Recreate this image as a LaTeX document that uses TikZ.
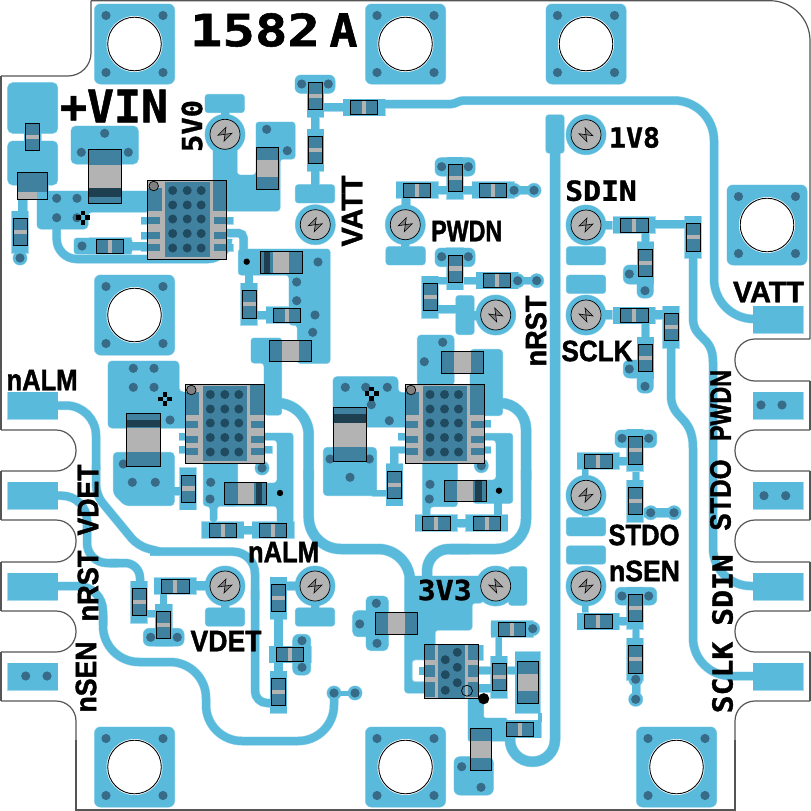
\documentclass[tikz,border=0pt]{standalone}
\usepackage{graphicx}
\usepackage{fontspec}
\setsansfont[BoldFeatures={FakeBold=1.6}]{Liberation Sans}
\setmonofont[BoldFeatures={FakeBold=1.2}]{DejaVu Sans Mono}
\definecolor{cublue}{HTML}{5ABADC}
\definecolor{cuhalo}{HTML}{A5DAEE}
\definecolor{chipteal}{HTML}{40819F}
\definecolor{chipgrey}{HTML}{B3B3B3}
\definecolor{viadark}{HTML}{386B87}
\definecolor{viaink}{HTML}{1F4A5F}
\definecolor{bandink}{HTML}{1D3F50}
\definecolor{edgeink}{HTML}{555555}

\def\mountlist{134.5/44,405.5/44,586/44,767/225,134.5/315,134.5/767,405.5/767,676.5/767}
\def\reshlist{110/246,364/107.3,417/190,493/190,634.3/225,634.3/315.3,598.3/461,598.3/621.3,222.7/530,273/530,287/315,436.3/523,486.9/523,497/280.3,175.3/586,290/654.3,512/629,520/729.3}
\def\resvlist{32.7/137,20/232,315.3/96,315.3/150,455/178,455/268.5,430/297,693/237.3,645.3/262.7,671/327,645.3/358,635/450.3,635/501,635/608,635/659.3,249/304.3,188/488.6,394.3/484.7,139/602,163.7/625,278.3/598,278.3/692,499/677}
\def\tplist{225/134.3/0,315.3/224.7/0,405.3/224.7/0,586/134.7/90,586/225/0,586/315/90,495.7/315/90,586/495.3/0,586/586/0,225/586/0,315/586/0,495.7/586/90}

% label text squeezed to the printed width
\newcommand{\labsans}[1]{\resizebox{71pt}{20.5pt}{\sffamily\bfseries #1}}
\newcommand{\labmono}[2]{\resizebox{#1pt}{20.5pt}{\ttfamily\bfseries #2}}

% one resistor or capacitor, centre then size then length of the end caps
\newcommand{\chiph}[5]{%
  \fill[chipgrey] ({#1-#3/2},{#2-#4/2}) rectangle ({#1+#3/2},{#2+#4/2});
  \fill[chipteal] ({#1-#3/2},{#2-#4/2}) rectangle ({#1-#3/2+#5},{#2+#4/2});
  \fill[chipteal] ({#1+#3/2-#5},{#2-#4/2}) rectangle ({#1+#3/2},{#2+#4/2});
  \draw[partline] ({#1-#3/2},{#2-#4/2}) rectangle ({#1+#3/2},{#2+#4/2});}
\newcommand{\chipv}[5]{%
  \fill[chipgrey] ({#1-#3/2},{#2-#4/2}) rectangle ({#1+#3/2},{#2+#4/2});
  \fill[chipteal] ({#1-#3/2},{#2-#4/2}) rectangle ({#1+#3/2},{#2-#4/2+#5});
  \fill[chipteal] ({#1-#3/2},{#2+#4/2-#5}) rectangle ({#1+#3/2},{#2+#4/2});
  \draw[partline] ({#1-#3/2},{#2-#4/2}) rectangle ({#1+#3/2},{#2+#4/2});}

% the big regulator, from its top left corner
\newcommand{\bigchip}[2]{%
  \begin{scope}[shift={(#1,#2)}]
    \fill[chipgrey] (0,0) rectangle (79,79);
    \fill[chipteal] (17.5,2) rectangle (62,76.5);
    \fill[chipteal] (0,8) rectangle (14,31);
    \fill[chipteal] (65,1) rectangle (79,31);
    \foreach \py in {36.5,51.5,64} {
      \fill[chipteal] (0,\py) rectangle (12.5,{\py+7});
      \fill[chipteal] (66,\py) rectangle (79,{\py+7});
    }
    \foreach \vx in {25,39.5,53.5}
      \foreach \vy in {10.5,25,39,53.5,68}
        \fill[viaink] (\vx,\vy) circle (4.5);
    \fill[gray] (6,6) circle (4.8);
    \draw[partline] (6,6) circle (4.8);
    \draw[partline] (0,0) rectangle (79,79);
  \end{scope}}

% everything in copper, drawn twice so the pale rim stays outside
\newcommand{\copperart}{%
  \foreach \x/\y in {7.5/392,7.5/482,7.5/573,7.5/663,753/306,753/392,753/482,753/573,753/663}
    \fill[copper] (\x,\y) rectangle +(50,27);
  \foreach \x/\y in \mountlist
    \fill[copper,rounded corners=6] ({\x-40},{\y-40}) rectangle ({\x+40},{\y+40});
  \foreach \x/\y in \reshlist
    \fill[copper] ({\x-21},{\y-8.3}) rectangle ({\x+21},{\y+8.3});
  \foreach \x/\y in \resvlist
    \fill[copper] ({\x-8.3},{\y-21}) rectangle ({\x+8.3},{\y+21});
  \foreach \x/\y/\r in \tplist
    \fill[copper] (\x,\y) circle (20);
  \foreach \x/\y/\w/\h in {224.7/103.5/39.3/18.3,315/193.8/39.3/18.3,405.6/255.8/39.3/18.3,586/255.8/39.3/18.3,586/284.3/39.3/18.3,586/526.7/39.3/18.3,586/555/39.3/18.3,225/617/39.3/18.3,315/617/39.3/18.3,555/134/18.3/38.3,517.7/586/18.3/38.7,465/315/18.3/39}
    \fill[copper,rounded corners=3] ({\x-\w/2},{\y-\h/2}) rectangle ({\x+\w/2},{\y+\h/2});
  % long traces
  \draw[trace] (385,104) -- (451,104) .. controls (456,104) and (458,100.5) .. (464,100.5) [rounded corners=40] -- (714,100.5) -- (714,319) -- (753,319);
  \draw[trace] (693,258) -- (693,318) .. controls (693,340) and (713,335) .. (713,362) [rounded corners=38] -- (713,586) -- (753,586);
  \draw[trace] (671,347) -- (671,395) .. controls (671,420) and (693,415) .. (693,448) [rounded corners=38] -- (693,676) -- (753,676);
  \draw[trace,rounded corners=30] (58,405.5) -- (96,405.5) -- (96,470);
  \draw[trace,rounded corners=10] (96,465) -- (96,495) -- (138,546) -- (160,551.7);
  \draw[trace,rounded corners=22] (150,551.7) -- (255,551.7) -- (255,600);
  \draw[trace,rounded corners=12] (255,590) -- (255,703) -- (278,703);
  \draw[trace,rounded corners=25] (58,495.7) -- (87,495.7) -- (87,530);
  \draw[trace,rounded corners=20] (87,520) -- (87,563) -- (118,563);
  \draw[trace,rounded corners=15] (110,563) -- (140,563) -- (140,585);
  \draw[trace,rounded corners=25] (58,586) -- (103,586) -- (103,625);
  \draw[trace,rounded corners=36] (103,615) -- (103,662) -- (206,662) -- (206,741) -- (334,741) -- (334,693);
  \draw[bus,rounded corners=32] (278,403) -- (308.7,403) -- (308.7,480);
  \draw[bus,rounded corners=32] (308.7,470) -- (308.7,549) -- (410,549) -- (410,585);
  \draw[bus,rounded corners=26] (495,403) -- (526,403) -- (526,480);
  \draw[bus,rounded corners=30] (526,470) -- (526,549) -- (450,549);
  \draw[bus,rounded corners=22] (470,549) -- (427,549) -- (427,585);
  \draw[bus,rounded corners=22] (555,150) -- (555,761.7) -- (510,761.7) -- (510,735);
  \draw[trace,rounded corners=20] (56.7,226) -- (56.7,259) -- (228,259) -- (228,240);
  \draw[trace,rounded corners=5] (225,233) -- (243.5,233) -- (243.5,255);
  % input side
  \fill[copper,rounded corners=5] (7.7,82.7) rectangle (57.7,133.3);
  \fill[copper,rounded corners=5] (7.7,141) rectangle (57.7,185);
  \fill[copper] (17,180) rectangle (28,199);
  \fill[copper] (37,180) rectangle (48,199);
  \fill[copper] (18,199) rectangle (27,212);
  \fill[copper] (16,245) rectangle (24,258);
  \fill[copper] (20,258) circle (7);
  \fill[copper,rounded corners=4] (37,191) -- (150,191) -- (150,212) -- (88,212) -- (88,229) -- (37,229) -- cycle;
  \fill[copper,rounded corners=5] (71,126) rectangle (138.3,164);
  \fill[copper,rounded corners=3] (74,238) rectangle (132,254);
  \fill[copper] (132,242) rectangle (150,250);
  \foreach \py in {217,232,244}
    \fill[copper] (141,\py) rectangle (160,{\py+7});
  \foreach \py in {217,244}
    \fill[copper] (213,\py) rectangle (233,{\py+7});
  \fill[copper,rounded corners=3] (213,143) -- (237,143) -- (237,175) -- (256,175) -- (256,122) -- (295,122) -- (295,159) -- (280,159) -- (280,211) -- (213,211) -- cycle;
  % block below the top regulator
  \fill[copper,rounded corners=3] (238.3,249) -- (330,249) -- (330,363.3) -- (297.3,363.3) -- (297.3,325) -- (289,325) -- (289,275) -- (238.3,275) -- cycle;
  \fill[copper] (245,275) rectangle (252.7,283);
  \fill[copper] (257,311) rectangle (266,319);
  \fill[copper,rounded corners=3] (251,338) -- (281.7,338) -- (281.7,415) -- (264,415) -- (264,363) -- (251,363) -- cycle;
  % left regulator
  \fill[copper,rounded corners=4] (108,361) -- (179,361) -- (179,392) -- (195,392) -- (195,428) -- (108,428) -- cycle;
  \fill[copper,rounded corners=4] (113.3,452.3) -- (174.3,452.3) -- (174.3,505.7) -- (125,505.7) -- (113.3,494) -- cycle;
  \fill[copper] (170,487) rectangle (182,495);
  \foreach \py in {433,446} \fill[copper] (179,\py) rectangle (198,{\py+7});
  \fill[copper,rounded corners=3] (203.3,460) -- (237.7,460) -- (237.7,506) -- (217,506) -- (217,522) -- (210,522) -- (210,506) -- (203.3,506) -- cycle;
  \fill[copper] (243,526) rectangle (252,534);
  \fill[copper,rounded corners=3] (250,433) -- (293,433) -- (293,538) -- (277,538) -- (277,506) -- (224,506) -- (224,483) -- (277,483) -- (277,440) -- (250,440) -- cycle;
  \fill[copper] (250,446) rectangle (272,453);
  \fill[copper] (262,468) circle (7);
  % middle regulator
  \fill[copper,rounded corners=4] (333,376.7) -- (398,376.7) -- (398,392.7) -- (418,392.7) -- (418,427) -- (366,427) -- (333,427) -- cycle;
  \fill[copper,rounded corners=4] (323.3,447.3) rectangle (376.7,495.7);
  \fill[copper] (372,490) rectangle (390,496);
  \fill[copper] (390,446.7) rectangle (398,465);
  \fill[copper] (390,446.7) rectangle (418,453.3);
  \fill[copper] (398,433.3) rectangle (418,440);
  \fill[copper,rounded corners=4] (417.3,335) rectangle (454,386);
  \fill[copper,rounded corners=4] (470,349.3) -- (502.7,349.3) -- (502.7,415.7) -- (470,415.7) -- cycle;
  \fill[copper,rounded corners=3] (422.7,460) -- (457.3,460) -- (457.3,506.7) -- (430,506.7) -- (430,518) -- (422.7,518) -- cycle;
  \fill[copper,rounded corners=3] (470,433.3) -- (512.7,433.3) -- (512.7,503.3) -- (473,503.3) -- (473,480) -- (496,480) -- (496,440) -- (470,440) -- cycle;
  \fill[copper] (494,503) rectangle (501.7,515);
  \fill[copper] (470,420) rectangle (490.7,427);
  \fill[copper] (470,446.7) rectangle (490.7,453);
  \fill[copper] (481.3,465.7) circle (7);
  \fill[copper] (457,519) rectangle (466,527);
  % bottom regulator and 3V3
  \fill[copper,rounded corners=3] (404.7,576) -- (483,576) -- (483,603) -- (472,603) -- (472,630) -- (435,630) -- (435,693) -- (404.7,693) -- cycle;
  \fill[copper] (424,644.3) rectangle (478,698);
  \fill[copper] (478,645) rectangle (483,660);
  \fill[copper] (478,666.7) rectangle (491,674.3);
  \fill[copper] (478,684) rectangle (491,692);
  \fill[copper] (507,666.7) rectangle (515,674.3);
  \fill[copper] (515,651.7) rectangle (540,713);
  \fill[copper] (538,713) rectangle (541.7,722);
  \fill[copper] (506,720) rectangle (541,736.7);
  \fill[copper] (495.7,636) rectangle (501.7,656);
  \fill[copper,rounded corners=3] (491,621) rectangle (528,636.7);
  \fill[copper] (525,625) rectangle (532.7,633);
  \fill[copper] (532.7,628.7) circle (7);
  \fill[copper,rounded corners=2] (468,698) -- (483.5,698) -- (483.5,718) -- (507,718) -- (507,741) -- (468,741) -- cycle;
  \fill[copper,rounded corners=6] (454,756.7) rectangle (493.3,795);
  \fill[copper] (470,740) rectangle (491.7,757);
  % cap blob left of it
  \fill[copper,rounded corners=5] (366,596) rectangle (388.3,650.7);
  \fill[copper,rounded corners=5] (352.7,610.7) rectangle (388,636.7);
  \fill[copper] (388,615) rectangle (405,632);
  % stems of the small networks
  \foreach \x/\y/\xe/\ye in {221/112/229/118,311/116/319.3/137,311/171/319.3/185,323/103/343/111,401.7/197/410/208,401/238/409/247,431/186/447/194,463/186/472/194,436/277/447/284,464/277/476/284,437/305/457/313.3,474/311/480/320,512/277/537/284,513/186/534/194,600/221/612/229,655/220/685/228.3,641.7/233/649.3/243,600/310/612/319,655/310/663/319,641.7/323/649.3/338,582/469/588/480,619/457/628/465,632.7/471.7/639.3/480,644/508/675/517,582/600/588/612,619/617/628/625,632.7/628/639.3/638,632/680/640/700,582/507/588/516,582/566/588/575,196/581/208/590,160/594/166.7/612,146.7/610/156/617.3,221/598/229/608,311/598/319/608,287/581.7/296/590,274/618/282.7/647,274/662/282.7/678,286/650/293/658}
    \fill[copper] (\x,\y) rectangle (\xe,\ye);
  \foreach \x/\y/\xe/\ye in {435/157.7/475/176,435/248/475/266.7,615/430/656.7/447.7,615/587.3/656.7/605,143.3/628.3/184/646,292.7/634.3/310.7/675,623.3/265/653.3/284,637/278/653.3/298,623.3/360/653.3/378,637/372/653.3/393,295/75/335/93.3}
    \fill[copper,rounded corners=6] (\x,\y) rectangle (\xe,\ye);
  \foreach \x/\y in {514/190.3,534/190.3,517.7/280.7,536.7/280.7,650.7/512.7,674/512.7,635.7/679.3,635.7/699.3,334/693,355/693}
    \fill[copper] (\x,\y) circle (7);
  \draw[trace,line width=5] (334,693) -- (355,693);
}

\begin{document}
\begin{tikzpicture}[x=1pt,y=-1pt,
    partline/.style={draw=black,line width=0.7},
    edgeline/.style={draw=edgeink,line width=1.2},
    lbl/.style={inner sep=0}]
\useasboundingbox (0,0) rectangle (811,811);
\fill[white] (0,0) rectangle (811,811);

% board edge
\draw[edgeline,rounded corners=23] (1,76) -- (91,76) -- (91,0.7);
\draw[edgeline,rounded corners=40] (91,0.7) -- (810,0.7) -- (810,339);
\foreach \ya/\yb in {430/471,520/562,611/652}
  \draw[edgeline,rounded corners=20] (1,\ya) -- (76,\ya) -- (76,\yb) -- (1,\yb);
\foreach \ya/\yb in {339/381,430/471,520/562,611/652}
  \draw[edgeline,rounded corners=20] (810,\ya) -- (735,\ya) -- (735,\yb) -- (810,\yb);
\foreach \ya/\yb in {76/430,471/520,562/611,652/701}
  \draw[edgeline] (1,\ya) -- (1,\yb);
\foreach \ya/\yb in {381/430,471/520,562/611,652/701}
  \draw[edgeline] (810,\ya) -- (810,\yb);
\draw[edgeline,rounded corners=20] (1,701) -- (76,701) -- (76,745);
\draw[edgeline,rounded corners=20] (810,701) -- (735,701) -- (735,745);
\draw[edgeline] (76,740) -- (76,810) -- (735,810) -- (735,740);

% copper
\begin{scope}[copper/.style={fill=cuhalo,draw=cuhalo,line width=1},
              trace/.style={draw=cuhalo,line width=9},
              bus/.style={draw=cuhalo,line width=11}]
  \copperart
\end{scope}
\begin{scope}[copper/.style={fill=cublue},
              trace/.style={draw=cublue,line width=8},
              bus/.style={draw=cublue,line width=10}]
  \copperart
\end{scope}
\fill[white,draw=cuhalo,line width=0.8,rounded corners=3] (412.3,660) rectangle (426,681.7);
\fill[cublue] (419,666.5) rectangle (426,674.5);

% holes and vias
\foreach \x/\y in \mountlist {
  \fill[white] (\x,\y) circle (28);
  \draw[black,line width=0.9] (\x,\y) circle (26.8);
  \foreach \dx in {-28.5,28.5}
    \foreach \dy in {-28.5,28.5}
      \fill[viadark] ({\x+\dx},{\y+\dy}) circle (4.6);
}
\foreach \x/\y in {56.7/198.3,77/198.3,56.7/217.7,77/217.7,104.7/133.3,81.3/152.3,128.3/152.3,82/246,20/258,266.7/129.3,287.3/150.7,
    318/262,296.7/282,296.7/300.7,315/315,312.7/332.3,133.3/368.3,154/368.3,133.3/387.3,154/387.3,170/420,123.3/464,132.3/482.3,155.3/482.3,210.7/482.3,210/499,262/468,
    345.3/387.3,365.7/387.3,387.3/387.3,371.3/404.7,389.3/420.7,330/459,369.3/459,350/477.3,442.7/342.3,424.3/361.7,430/484.3,429.3/499,481.3/465.7,
    301.7/84,328.3/84,441.7/166.7,468.3/166.7,514/190.3,534/190.3,441.7/256.7,468.3/256.7,517.7/280.7,536.7/280.7,
    629.3/274,645/290.7,629.3/369,645/386.3,622/438.3,648.7/438.3,650.7/512.7,674/512.7,622/596,648.7/596,635.7/679.3,635.7/699.3,
    150.7/637.3,177.3/637.3,302/640.7,302/667.3,334/693,355/693,376.3/603.3,359.7/624,377/643.3,532.7/628.7,461.7/766.7,481/787.3,
    761/405,782/405,764/495.7,785.7/495.7,25.7/676,47/676}
  \fill[viadark] (\x,\y) circle (4.6);

% small parts
\foreach \x/\y in \reshlist {\chiph{\x}{\y}{27.3}{13.8}{11.5}}
\foreach \x/\y in \resvlist {\chipv{\x}{\y}{13.8}{27.3}{11.5}}
\foreach \x/\y in {290/350.7,462/362,396.7/623.5} {\chiph{\x}{\y}{42}{21.7}{12.5}}
\foreach \x/\y in {267/168,527.8/682.3,480.8/749.5} {\chipv{\x}{\y}{21.7}{42}{12.5}}

% polarised caps
\chipv{104.7}{176.5}{33.4}{53.6}{15}
\fill[bandink] (88,188) rectangle (121.3,196.7);
\draw[partline] (88,149.7) rectangle (121.3,203.3);
\chipv{143.7}{439.9}{34}{53.7}{15}
\fill[bandink] (126.7,420) rectangle (160.7,427.3);
\draw[partline] (126.7,413) rectangle (160.7,466.7);
\chipv{349.9}{434.7}{33.6}{54}{15}
\fill[bandink] (333,414) rectangle (366.7,422.7);
\draw[partline] (333,407.7) rectangle (366.7,461.7);
\chiph{281}{262}{42}{22}{13}
\fill[bandink] (264,251) rectangle (270,273);
\draw[partline] (260,251) rectangle (302,273);
\chiph{245.7}{493.3}{42}{22}{13}
\fill[bandink] (256,482.3) rectangle (261.7,504.3);
\draw[partline] (224.7,482.3) rectangle (266.7,504.3);
\chiph{465}{490.8}{42}{21.7}{13}
\fill[bandink] (475,480) rectangle (482.3,501.7);
\draw[partline] (444,480) rectangle (486,501.7);

% input switch
\fill[chipgrey] (17.7,172) rectangle (47.7,199);
\fill[chipteal] (17.7,172) rectangle (47.7,191.5);
\fill[cublue] (37,191.5) rectangle (47.7,199);
\draw[partline] (17.7,172) rectangle (47.7,199);

\bigchip{147.7}{180}
\bigchip{185.3}{384}
\bigchip{405}{384}

% bottom regulator
\fill[chipgrey] (424.3,644.3) rectangle (478.3,698);
\fill[chipteal] (437.7,644.3) rectangle (465,698);
\foreach \py/\pe in {644.3/660,665/677.3,681.7/696.7} {
  \fill[chipteal] (424.3,\py) rectangle (435,\pe);
  \fill[chipteal] (467.7,\py) rectangle (478.3,\pe);
}
\foreach \x/\y in {457.3/652.3,445.3/659.7,457.3/667.3,445.3/674.7,457.3/682.7,445.3/690.3}
  \fill[viaink] (\x,\y) circle (4.5);
\draw[partline] (467,690.7) circle (5.5);
\draw[partline] (424.3,644.3) rectangle (478.3,698);

% test points
\foreach \x/\y/\r in \tplist {
  \begin{scope}[shift={(\x,\y)},rotate=\r]
    \fill[chipgrey] (0,0) circle (15);
    \draw[partline] (0,0) circle (15);
    \draw[black,line width=0.6,fill=gray] (-7,1) -- (1,-7) -- (-1,7) -- (7,-1) -- cycle;
  \end{scope}
}

% dots
\fill[black] (246.7,261.7) circle (3.2);
\fill[black] (280,493) circle (3.2);
\fill[black] (499,490.7) circle (3.2);
\fill[black] (483.7,698.7) circle (5.6);

% fiducials
\foreach \x/\y in {83/217.5,165/399,371.5/393.5} {
  \foreach \dx/\dy in {-4.7/0,4.7/0,0/-4.7,0/4.7}
    \fill[black] ({\x+\dx-2.3},{\y+\dy-2.3}) rectangle +(4.6,4.6);
}

% labels
\node[lbl] (title) at (255,30) {\resizebox{130pt}{33pt}{\ttfamily\bfseries 1582}};
\node[lbl] (rev) at (343.5,30) {\resizebox{28pt}{33pt}{\ttfamily\bfseries A}};
\node[lbl] (vin) at (114,106) {\resizebox{108pt}{!}{\ttfamily\bfseries +VIN}};
\node[lbl,rotate=90] (l5v) at (192,126) {\labmono{52}{5V0}};
\node[lbl,rotate=90] (lvatt) at (352,211) {\labsans{VATT}};
\node[lbl] (lpwdn) at (466.7,231) {\labsans{PWDN}};
\node[lbl] (l1v8) at (634.5,137.5) {\labmono{51}{1V8}};
\node[lbl] (lsdin) at (601,190.7) {\labmono{71.5}{SDIN}};
\node[lbl] (lvattr) at (768.5,292) {\labsans{VATT}};
\node[lbl] (lsclk) at (597,351) {\labsans{SCLK}};
\node[lbl,rotate=90] (lnrst) at (536,331) {\labsans{nRST}};
\node[lbl] (lnalm) at (42,380) {\labsans{nALM}};
\node[lbl,rotate=90] (lvdet) at (88,500) {\labsans{VDET}};
\node[lbl,rotate=90] (lnrstl) at (88,586) {\labsans{nRST}};
\node[lbl,rotate=90] (lnsenl) at (86,677) {\labsans{nSEN}};
\node[lbl] (lvdetb) at (226,641) {\labsans{VDET}};
\node[lbl] (lnalmb) at (283.5,552) {\labsans{nALM}};
\node[lbl] (l3v3) at (444.7,590) {\labmono{54}{3V3}};
\node[lbl] (lstdo) at (644,535) {\labsans{STDO}};
\node[lbl] (lnsen) at (644.5,571) {\labsans{nSEN}};
\node[lbl,rotate=90] (lpwdnr) at (720.5,405.5) {\labsans{PWDN}};
\node[lbl,rotate=90] (lstdor) at (720.5,495) {\labsans{STDO}};
\node[lbl,rotate=90] (lsdinr) at (722.5,590) {\labmono{71.5}{SDIN}};
\node[lbl,rotate=90] (lsclkr) at (722.5,677.5) {\labmono{71.5}{SCLK}};
\end{tikzpicture}
\end{document}
